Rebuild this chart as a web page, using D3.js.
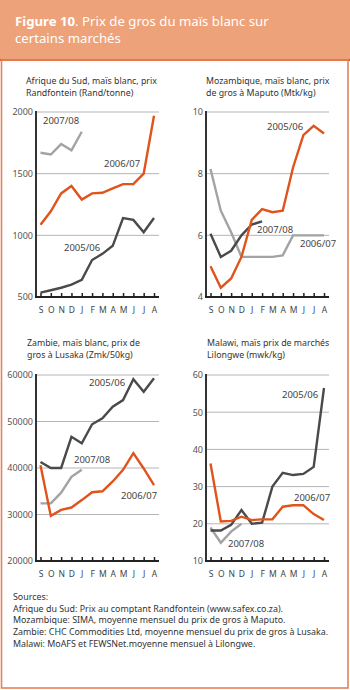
<!DOCTYPE html>
<html>
<head>
<meta charset="utf-8">
<script src="https://cdn.jsdelivr.net/npm/d3@7"></script>
<style>
  body { margin: 0; background: #fff; }
  text { font-family: "Noto Sans", sans-serif; }
</style>
</head>
<body>
<div id="chart"></div>
<script>
// data, months Sep -> Aug
const months = ["S","O","N","D","J","F","M","A","M","J","J","A"];

const zaf0506 = [535,555,575,600,640,800,850,915,1140,1125,1025,1140];
const zaf0607 = [1085,1195,1340,1400,1290,1340,1345,1380,1415,1415,1500,1970];
const zaf0708 = [1670,1655,1740,1690,1840];
const zafTicks = [500,1000,1500,2000];

const moz0506 = [5.0,4.3,4.6,5.3,6.5,6.85,6.75,6.8,8.2,9.25,9.55,9.3];
const moz0607 = [8.15,6.8,6.1,5.3,5.3,5.3,5.3,5.35,6.0,6.0,6.0,6.0];
const moz0708 = [6.05,5.3,5.5,6.0,6.35,6.45];
const mozTicks = [4,6,8,10];

const zmb0506 = [41300,40000,40000,46700,45300,49400,50700,53200,54600,59100,56400,59300];
const zmb0607 = [40600,29700,31000,31500,33100,34800,35000,37100,39600,43200,39900,36300];
const zmb0708 = [32400,32400,34700,38100,39600];
const zmbTicks = [20000,30000,40000,50000,60000];

const mwi0506 = [18.2,18.2,19.7,23.7,20.0,20.3,30.0,33.7,33.1,33.4,35.3,56.5];
const mwi0607 = [36.2,20.6,20.8,21.9,21.0,21.2,21.2,24.6,25.0,25.0,22.6,21.0];
const mwi0708 = [19.0,14.9,17.9,20.0];
const mwiTicks = [10,20,30,40,50,60];

const sources = [
  "Sources:",
  "Afrique du Sud: Prix au comptant  Randfontein (www.safex.co.za).",
  "Mozambique: SIMA, moyenne mensuel du prix de gros à Maputo.",
  "Zambie: CHC Commodities Ltd, moyenne mensuel du prix de gros à Lusaka.",
  "Malawi: MoAFS et FEWSNet.moyenne mensuel à Lilongwe."
];

const ORANGE = "#e0541c", DARK = "#4a4a4a", LIGHT = "#a3a3a3";

const width = 350, height = 690;
const svg = d3.select("#chart").append("svg")
  .attr("width", width).attr("height", height);

// header
svg.append("rect").attr("x",0).attr("y",0).attr("width",width).attr("height",59)
  .attr("fill","#eea27a");
svg.append("rect").attr("x",0).attr("y",59).attr("width",width).attr("height",2)
  .attr("fill","#e05a24");
const h1 = svg.append("text").attr("x",15).attr("y",25.5).attr("fill","#fff")
  .style("font-size","13.2px");
h1.append("tspan").attr("font-weight","bold").text("Figure 10");
h1.append("tspan").text(". Prix de gros du maïs blanc sur");
svg.append("text").attr("x",15).attr("y",42.5).attr("fill","#fff")
  .style("font-size","13.2px").text("certains marchés");

// frame
svg.append("rect").attr("x",1.5).attr("y",60).attr("width",346.5).attr("height",628)
  .attr("fill","none").attr("stroke","#e8805a").attr("stroke-width",1.6);

const panels = [
  { title:["Afrique du Sud, maïs blanc, prix","Randfontein (Rand/tonne)"], tx:26, ty:84,
    x0:36, top:112, bottom:297, ticks:zafTicks,
    series:[
      {v:zaf0708, c:LIGHT, label:"2007/08", lx:43, ly:124},
      {v:zaf0506, c:DARK, label:"2005/06", lx:64, ly:251},
      {v:zaf0607, c:ORANGE, label:"2006/07", lx:104, ly:167}
    ]},
  { title:["Mozambique, maïs blanc, prix","de gros à Maputo (Mtk/kg)"], tx:206, ty:84,
    x0:206, top:112, bottom:297, ticks:mozTicks,
    series:[
      {v:moz0607, c:LIGHT, label:"2006/07", lx:300, ly:247},
      {v:moz0708, c:DARK, label:"2007/08", lx:257, ly:233},
      {v:moz0506, c:ORANGE, label:"2005/06", lx:267, ly:130}
    ]},
  { title:["Zambie, maïs blanc, prix de","gros à Lusaka (Zmk/50kg)"], tx:27, ty:346,
    x0:36, top:375, bottom:561, ticks:zmbTicks,
    series:[
      {v:zmb0708, c:LIGHT, label:"2007/08", lx:74, ly:463},
      {v:zmb0506, c:DARK, label:"2005/06", lx:89, ly:386},
      {v:zmb0607, c:ORANGE, label:"2006/07", lx:121, ly:499}
    ]},
  { title:["Malawi, maïs prix de marchés","Lilongwe (mwk/kg)"], tx:207, ty:346,
    x0:206, top:375, bottom:561, ticks:mwiTicks,
    series:[
      {v:mwi0708, c:LIGHT, label:"2007/08", lx:228, ly:547},
      {v:mwi0506, c:DARK, label:"2005/06", lx:282, ly:398},
      {v:mwi0607, c:ORANGE, label:"2006/07", lx:294, ly:501}
    ]}
];

panels.forEach(p => {
  const g = svg.append("g");
  const w = 123;
  const x = d3.scalePoint().domain(d3.range(months.length)).range([p.x0+4.5, p.x0+118]);
  const y = d3.scaleLinear().domain(d3.extent(p.ticks)).range([p.bottom, p.top]);

  g.selectAll(".ttl").data(p.title).enter().append("text")
    .attr("x", p.tx).attr("y", (d,i) => p.ty + i*11.5)
    .attr("fill","#333").style("font-size","8.8px").text(d => d);

  // gridlines
  g.selectAll(".grid").data(p.ticks.slice(1)).enter().append("line")
    .attr("x1", p.x0).attr("x2", p.x0+w)
    .attr("y1", d => y(d)).attr("y2", d => y(d))
    .attr("stroke","#b5b5b5").attr("stroke-width",1);

  // y axis
  const ya = g.append("g").attr("transform",`translate(${p.x0},0)`)
    .call(d3.axisLeft(y).tickValues(p.ticks).tickSize(0).tickPadding(3).tickFormat(d3.format("d")));
  ya.select(".domain").remove();
  ya.selectAll("text").attr("fill","#555").style("font-size","9px")
    .style("font-family","Noto Sans");
  g.append("line").attr("x1",p.x0).attr("x2",p.x0).attr("y1",p.top-1).attr("y2",p.bottom+1)
    .attr("stroke","#333").attr("stroke-width",2);

  // x axis
  const xa = g.append("g").attr("transform",`translate(0,${p.bottom})`)
    .call(d3.axisBottom(x).tickSize(-4).tickPadding(10).tickFormat(i => months[i]));
  xa.select(".domain").remove();
  xa.selectAll(".tick line").attr("stroke","#222").attr("stroke-width",1.5);
  xa.selectAll("text").attr("fill","#444").style("font-size","8.5px")
    .style("font-family","Noto Sans");
  g.append("line").attr("x1",p.x0-1).attr("x2",p.x0+w).attr("y1",p.bottom).attr("y2",p.bottom)
    .attr("stroke","#222").attr("stroke-width",2);

  const line = d3.line().x((d,i) => x(i)).y(d => y(d));
  p.series.forEach(s => {
    g.append("path").attr("d", line(s.v)).attr("fill","none")
      .attr("stroke", s.c).attr("stroke-width",2.4);
    g.append("text").attr("x", s.lx).attr("y", s.ly).attr("fill","#444")
      .style("font-size","9.5px").text(s.label);
  });
});

// sources
svg.selectAll(".src").data(sources).enter().append("text")
  .attr("x",13).attr("y",(d,i) => 600 + i*11.7)
  .attr("fill","#333").style("font-size","8.9px").text(d => d);
</script>
</body>
</html>
